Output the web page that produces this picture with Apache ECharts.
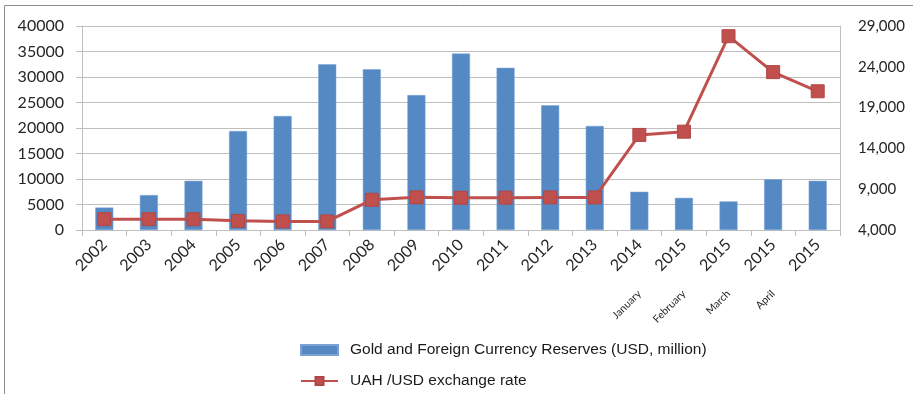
<!DOCTYPE html>
<html>
<head>
<meta charset="utf-8">
<script src="https://cdn.jsdelivr.net/npm/echarts@6/dist/echarts.min.js"></script>
<style>
  html, body { margin: 0; padding: 0; background: #ffffff; }
  #chart { width: 913px; height: 394px; }
</style>
</head>
<body>
<div id="chart"></div>
<script>
// Category labels along the bottom axis
const yearLabels = ['2002', '2003', '2004', '2005', '2006', '2007', '2008', '2009', '2010',
                    '2011', '2012', '2013', '2014', '2015', '2015', '2015', '2015'];
// Month captions shown on a second line under some categories
const monthLabels = ['', '', '', '', '', '', '', '', '', '', '', '',
                     'January', 'February', 'March', 'April', ''];

// Gold and foreign currency reserves, USD million
const reserves = [4400, 6850, 9650, 19400, 22350, 32500, 31500, 26450, 34600,
                  31800, 24450, 20400, 7500, 6300, 5600, 9950, 9650];
// UAH/USD exchange rate (per 1000 USD)
const exchangeRate = [5330, 5330, 5320, 5120, 5050, 5050, 7700, 8000, 7950,
                      7960, 7990, 7990, 15650, 16050, 27750, 23350, 21000];

// Tick labels of the two value axes
const leftTicks = [0, 5000, 10000, 15000, 20000, 25000, 30000, 35000, 40000];
const rightTicks = [4000, 9000, 14000, 19000, 24000, 29000];

const axisGray = '#bfbfbf';
const labelFont = 'Lato, "Open Sans", sans-serif';

const chart = echarts.init(document.getElementById('chart'), null, { renderer: 'canvas' });

chart.setOption({
  animation: false,
  backgroundColor: '#ffffff',
  graphic: [{
    type: 'rect',
    shape: { x: 4.5, y: 5.5, width: 1200, height: 1200 },
    style: { fill: 'none', stroke: '#8c8c8c', lineWidth: 1 },
    silent: true
  }],
  grid: {
    left: 82, right: 73, top: 26, bottom: 164,
    outerBoundsMode: 'none'
  },
  legend: {
    orient: 'vertical',
    left: 300,
    top: 342,
    padding: 0,
    height: 52,
    itemWidth: 37,
    itemHeight: 10,
    itemGap: 15,
    textStyle: {
      fontFamily: '"Liberation Sans", Arial, sans-serif',
      fontSize: 15.5,
      color: '#1a1a1a',
      padding: [0, 0, 0, 7]
    },
    data: [
      { name: 'Gold and Foreign Currency Reserves (USD, million)', icon: 'rect' },
      { name: 'UAH /USD exchange rate' }
    ]
  },
  xAxis: [{
    type: 'category',
    data: yearLabels,
    boundaryGap: true,
    axisLine: { lineStyle: { color: axisGray, width: 1 } },
    axisTick: { show: true, length: 6, lineStyle: { color: axisGray } },
    axisLabel: {
      interval: 0,
      rotate: 45,
      margin: 12,
      fontFamily: labelFont,
      fontSize: 16,
      color: '#262626'
    }
  }, {
    type: 'category',
    data: yearLabels,
    position: 'bottom',
    boundaryGap: true,
    axisLine: { show: false },
    axisTick: { show: false },
    axisLabel: {
      interval: 0,
      rotate: 45,
      margin: 62,
      fontFamily: labelFont,
      fontSize: 10.5,
      color: '#262626',
      formatter: (value, index) => monthLabels[index]
    }
  }],
  yAxis: [{
    type: 'value',
    min: leftTicks[0],
    max: leftTicks[leftTicks.length - 1],
    interval: 5000,
    axisLine: { show: true, lineStyle: { color: axisGray } },
    axisTick: { show: true, length: 6, lineStyle: { color: axisGray } },
    splitLine: { show: true, lineStyle: { color: axisGray, width: 1 } },
    axisLabel: {
      margin: 18,
      fontFamily: labelFont,
      fontSize: 16,
      color: '#262626',
      formatter: v => String(v)
    }
  }, {
    type: 'value',
    min: rightTicks[0],
    max: rightTicks[rightTicks.length - 1],
    axisLine: { show: true, lineStyle: { color: axisGray } },
    axisTick: { show: false },
    splitLine: { show: false },
    axisLabel: {
      customValues: rightTicks,
      margin: 18,
      fontFamily: labelFont,
      fontSize: 15,
      color: '#262626',
      formatter: v => v.toLocaleString('en-US')
    }
  }],
  series: [{
    name: 'Gold and Foreign Currency Reserves (USD, million)',
    type: 'bar',
    data: reserves,
    xAxisIndex: 0,
    yAxisIndex: 0,
    barWidth: 18,
    itemStyle: { color: '#5589c4', borderColor: '#7aa3d4', borderWidth: 0.5 }
  }, {
    name: 'UAH /USD exchange rate',
    type: 'line',
    data: exchangeRate,
    xAxisIndex: 0,
    yAxisIndex: 1,
    symbol: 'rect',
    symbolSize: 13,
    z: 5,
    lineStyle: { color: '#c0504d', width: 3 },
    itemStyle: { color: '#c0504d', borderColor: '#b04744', borderWidth: 1 }
  }]
});
</script>
</body>
</html>
